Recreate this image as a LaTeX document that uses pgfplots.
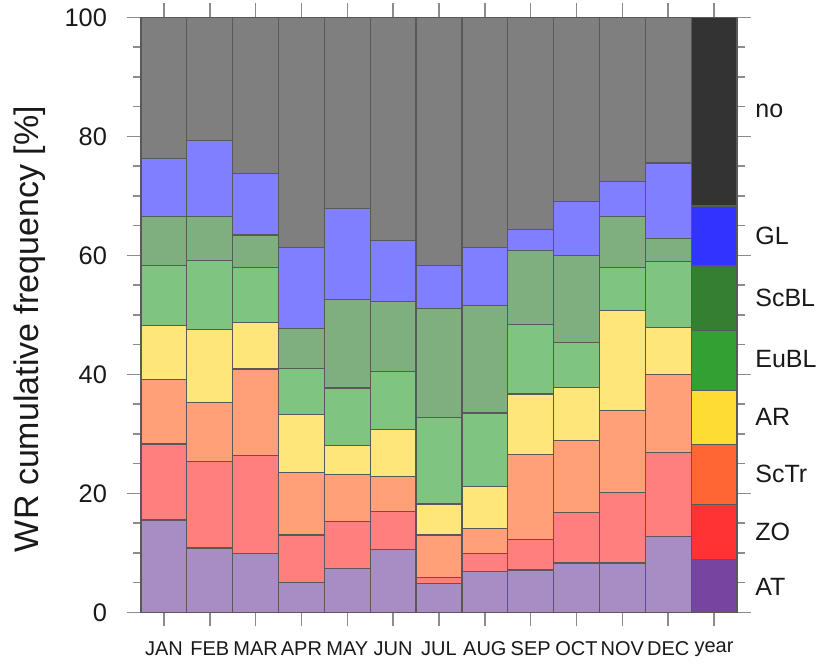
\documentclass[border=0pt]{standalone}
\usepackage{fontspec}
\setmainfont{Liberation Sans}
\usepackage{pgfplots}
\usepackage{pgfplotstable}
\pgfplotsset{compat=1.18}

\definecolor{noL}{HTML}{7F7F7F}
\definecolor{GLL}{HTML}{7F7FFF}
\definecolor{ScBLL}{HTML}{7FAF7F}
\definecolor{EuBLL}{HTML}{7FC47F}
\definecolor{ARL}{HTML}{FFE67A}
\definecolor{ScTrL}{HTML}{FFA078}
\definecolor{ZOL}{HTML}{FF7F7F}
\definecolor{ATL}{HTML}{A88CC4}

\definecolor{noD}{HTML}{333333}
\definecolor{GLD}{HTML}{3333FF}
\definecolor{ScBLD}{HTML}{338033}
\definecolor{EuBLD}{HTML}{33A033}
\definecolor{ARD}{HTML}{FFDD33}
\definecolor{ScTrD}{HTML}{FF6633}
\definecolor{ZOD}{HTML}{FF3333}
\definecolor{ATD}{HTML}{7744A0}

\pgfplotstableread{
x AT ZO ScTr AR EuBL ScBL GL no
0 15.5 12.8 10.8 9.1 10.1 8.2 9.8 23.7
1 10.8 14.6 9.9 12.2 11.6 7.4 12.8 20.7
2 9.9 16.4 14.6 7.8 9.2 5.5 10.4 26.2
3 5.0 8.0 10.5 9.8 7.7 6.7 13.6 38.7
4 7.4 7.8 7.9 5.0 9.6 14.9 15.2 32.2
5 10.6 6.4 5.8 7.9 9.8 11.7 10.3 37.5
6 4.9 1.0 7.1 5.2 14.5 18.3 7.3 41.7
7 6.8 3.1 4.2 7.0 12.4 18.1 9.7 38.7
8 7.1 5.1 14.3 10.2 11.7 12.4 3.6 35.6
9 8.3 8.5 12.1 8.9 7.5 14.6 9.2 30.9
10 8.3 11.8 13.8 16.8 7.3 8.5 5.9 27.6
11 12.8 14.0 13.1 7.9 11.1 3.9 12.7 24.5
}\monthdata

\pgfplotsset{
  commonaxis/.style={
    at={(0,0)}, anchor=south west,
    scale only axis, width=298pt, height=297.5pt,
    xmin=-0.5, xmax=12.5, ymin=0, ymax=100,
    ybar stacked, bar width=1,
    clip=false,
  },
  barstyle/.style={draw=black!65, line width=0.6pt},
}
\tikzset{rlab/.style={anchor=west, inner sep=0pt, xshift=9pt, font=\fontsize{12.5}{14}\selectfont, text=black!90}}

\begin{document}
\begin{tikzpicture}
\path[use as bounding box] (-70.5pt,-26.85pt) rectangle (340pt,306.15pt);
\begin{axis}[commonaxis,
  xtick={0,...,12},
  xticklabels={JAN,FEB,MAR,APR,MAY,JUN,JUL,AUG,SEP,OCT,NOV,DEC,year},
  ytick={0,20,...,100}, minor y tick num=3,
  tick align=outside,
  major tick length=7pt, minor tick length=4pt,
  every tick/.style={black!45, line width=0.8pt},
  axis line style={black!45, line width=0.8pt},
  /pgf/number format/assume math mode=true,
  yticklabel style={font=\fontsize{12.7}{14}\selectfont, text=black!90, xshift=-6.5pt},
  xticklabel style={font=\fontsize{10}{11}\selectfont, text=black!90, yshift=-4pt},
  ylabel={WR cumulative frequency [\%]},
  every axis y label/.style={at={(axis description cs:-0.186,0.476)}, rotate=90, anchor=center,
    font=\fontsize{17}{19}\selectfont, text=black!90},
]
\addplot[barstyle, fill=ATL] table[x=x, y=AT] {\monthdata};
\addplot[barstyle, fill=ZOL] table[x=x, y=ZO] {\monthdata};
\addplot[barstyle, fill=ScTrL] table[x=x, y=ScTr] {\monthdata};
\addplot[barstyle, fill=ARL] table[x=x, y=AR] {\monthdata};
\addplot[barstyle, fill=EuBLL] table[x=x, y=EuBL] {\monthdata};
\addplot[barstyle, fill=ScBLL] table[x=x, y=ScBL] {\monthdata};
\addplot[barstyle, fill=GLL] table[x=x, y=GL] {\monthdata};
\addplot[barstyle, fill=noL] table[x=x, y=no] {\monthdata};
\node[rlab] at (axis cs:12.5,84.2) {no};
\node[rlab] at (axis cs:12.5,63.2) {GL};
\node[rlab] at (axis cs:12.5,52.8) {ScBL};
\node[rlab] at (axis cs:12.5,42.5) {EuBL};
\node[rlab] at (axis cs:12.5,32.9) {AR};
\node[rlab] at (axis cs:12.5,23.2) {ScTr};
\node[rlab] at (axis cs:12.5,13.5) {ZO};
\node[rlab] at (axis cs:12.5,4.3) {AT};
\end{axis}
\begin{axis}[commonaxis, hide axis]
\addplot[barstyle, fill=ATD] coordinates {(12,8.9)};
\addplot[barstyle, fill=ZOD] coordinates {(12,9.2)};
\addplot[barstyle, fill=ScTrD] coordinates {(12,10.1)};
\addplot[barstyle, fill=ARD] coordinates {(12,9.1)};
\addplot[barstyle, fill=EuBLD] coordinates {(12,10.0)};
\addplot[barstyle, fill=ScBLD] coordinates {(12,10.9)};
\addplot[barstyle, fill=GLD] coordinates {(12,10.1)};
\addplot[barstyle, fill=noD] coordinates {(12,31.7)};
\end{axis}
\end{tikzpicture}
\end{document}
